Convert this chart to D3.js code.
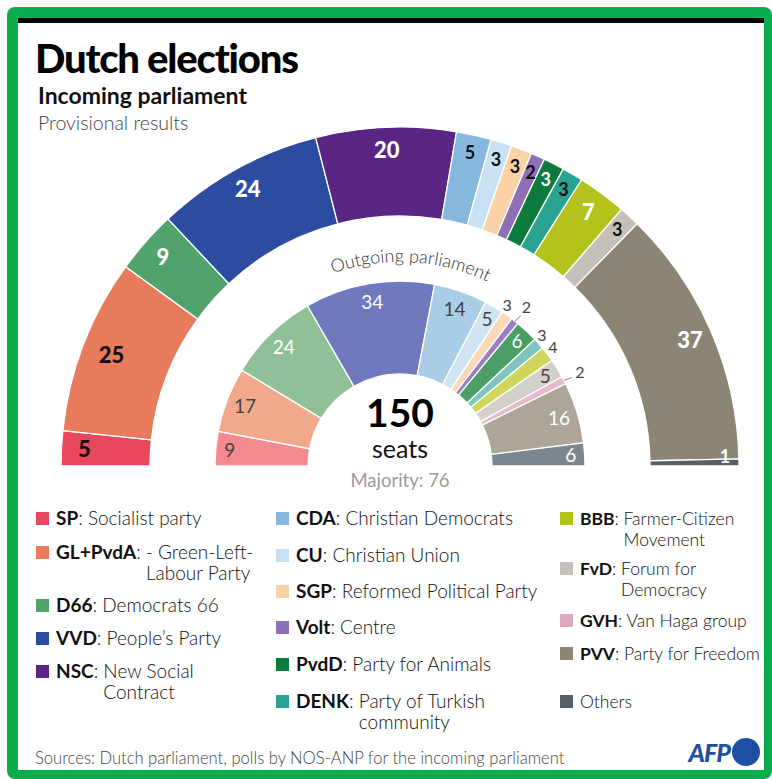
<!DOCTYPE html>
<html>
<head>
<meta charset="utf-8">
<script src="https://cdn.jsdelivr.net/npm/d3@7"></script>
<style>
  html, body { margin: 0; padding: 0; background: #fff; }
  svg { display: block; font-family: Lato, "Open Sans", sans-serif; }
</style>
</head>
<body>
<svg id="chart" width="772" height="779"></svg>
<script>
// parties, left to right round the hemicycle
var parties = ['SP', 'GL+PvdA', 'D66', 'VVD', 'NSC', 'CDA', 'CU', 'SGP', 'Volt', 'PvdD', 'DENK', 'BBB', 'FvD', 'GVH', 'PVV', 'Others'];
var partyNames = [
  'Socialist party', '- Green-Left-\nLabour Party', 'Democrats 66', 'People\u2019s Party', 'New Social\nContract',
  'Christian Democrats', 'Christian Union', 'Reformed Political Party', 'Centre', 'Party for Animals',
  'Party of Turkish\ncommunity', 'Farmer-Citizen\nMovement', 'Forum for\nDemocracy', 'Van Haga group',
  'Party for Freedom', ''
];
var incomingSeats = [5, 25, 9, 24, 20, 5, 3, 3, 2, 3, 3, 7, 3, 0, 37, 1];
var outgoingSeats = [9, 17, 24, 34, 0, 14, 5, 3, 2, 6, 3, 4, 5, 2, 16, 6];
var totalSeats = 150, majority = 76;

// legend columns (party codes)
var legendColumns = [
  ['SP', 'GL+PvdA', 'D66', 'VVD', 'NSC'],
  ['CDA', 'CU', 'SGP', 'Volt', 'PvdD', 'DENK'],
  ['BBB', 'FvD', 'GVH', 'PVV', 'Others']
];

// colours
var strongColor = d3.scaleOrdinal().domain(parties).range([
  '#e8485d', '#e87b5b', '#4fa36b', '#2c4ca1', '#5a2585', '#85b8dc', '#c7e1f2', '#fad2a6',
  '#8f70b6', '#0d7b3d', '#2aa393', '#b4c31b', '#c5c0b7', '#dca9bf', '#8b8576', '#565f67'
]);
var lightColor = d3.scaleOrdinal().domain(parties).range([
  '#f28a90', '#f2a98b', '#8fc097', '#6e7abd', '#9a7cbb', '#abcee7', '#d0e5f4', '#fbd9b6',
  '#9b80c1', '#4a9e66', '#7dc5bd', '#ced75b', '#d5d1ca', '#e5bace', '#aba698', '#7c868e'
]);

var svg = d3.select('#chart');

// frame
svg.append('rect').attr('x', 7).attr('y', 7).attr('width', 765).attr('height', 772)
  .attr('rx', 8).attr('fill', '#0aad4c');
svg.append('rect').attr('x', 18).attr('y', 18).attr('width', 746).attr('height', 752).attr('fill', '#fff');
svg.append('rect').attr('x', 18).attr('y', 18).attr('width', 746).attr('height', 5).attr('fill', '#000');

// titles
svg.append('text').attr('x', 35).attr('y', 73).text('Dutch elections')
  .attr('font-size', 40).attr('font-weight', 900).attr('letter-spacing', -1.2).attr('fill', '#000');
svg.append('text').attr('x', 38).attr('y', 104).text('Incoming parliament')
  .attr('font-size', 23).attr('font-weight', 700).attr('fill', '#111');
svg.append('text').attr('x', 38).attr('y', 130).text('Provisional results')
  .attr('font-size', 19.5).attr('font-weight', 300).attr('fill', '#444');

// hemicycle
var cx = 400, cy = 466;
var g = svg.append('g').attr('transform', 'translate(' + cx + ',' + cy + ')');

var pie = d3.pie().sort(null).value(function(d) { return d.seats; })
  .startAngle(-Math.PI / 2).endAngle(Math.PI / 2);

function rows(seats) {
  return parties.map(function(p, i) { return {party: p, seats: seats[i], index: i}; });
}

function polar(r, a) { return [r * Math.sin(a), -r * Math.cos(a)]; }
function mid(d) { return (d.startAngle + d.endAngle) / 2; }

var outerArc = d3.arc().innerRadius(250).outerRadius(339);
var innerArc = d3.arc().innerRadius(92).outerRadius(185);

var outerData = pie(rows(incomingSeats)).filter(function(d) { return d.data.seats > 0; });
var innerData = pie(rows(outgoingSeats)).filter(function(d) { return d.data.seats > 0; });

g.selectAll('path.outer').data(outerData).enter().append('path')
  .attr('class', 'outer').attr('d', outerArc)
  .attr('fill', function(d) { return strongColor(d.data.party); })
  .attr('stroke', '#fff').attr('stroke-width', 1.3);

g.selectAll('path.inner').data(innerData).enter().append('path')
  .attr('class', 'inner').attr('d', innerArc)
  .attr('fill', function(d) { return lightColor(d.data.party); })
  .attr('stroke', '#fff').attr('stroke-width', 1.3);

// outer labels
var darkOnOuter = ['SP', 'GL+PvdA', 'CDA', 'CU', 'SGP', 'Volt', 'DENK', 'FvD'];
function isBig(d) { return d.data.seats >= 7 || d.data.index === 0; }
g.selectAll('text.outer').data(outerData).enter().append('text')
  .attr('class', 'outer')
  .attr('transform', function(d) {
    var r = d.data.party === 'GL+PvdA' ? 309 : (isBig(d) ? 316 : 321);
    if (d.data.party === 'Others') r = 325;
    var p = polar(r, mid(d));
    if (d.data.party === 'Others') p[1] -= 6;
    return 'translate(' + p + ')';
  })
  .attr('text-anchor', 'middle').attr('dy', '0.36em')
  .attr('font-size', function(d) { return isBig(d) ? 22 : 18; })
  .attr('font-weight', function(d) { return isBig(d) ? 900 : 700; })
  .attr('fill', function(d) { return darkOnOuter.indexOf(d.data.party) >= 0 ? '#111' : '#fff'; })
  .text(function(d) { return d.data.seats; });

// inner labels: big ones inside, small ones outside the ring
var whiteOnInner = ['D66', 'VVD', 'PvdD', 'PVV', 'Others'];
var leaderParties = ['Volt', 'GVH'];
innerData.forEach(function(d) {
  var a = mid(d), inside = d.data.seats >= 5, p;
  if (inside) {
    p = polar(d.data.seats >= 14 ? 166 : 171, a);
  } else {
    p = polar(leaderParties.indexOf(d.data.party) >= 0 ? 202 : 197, a);
    if (d.data.party === 'SGP') p[0] -= 7;
    if (d.data.party === 'DENK') p[0] -= 6;
    if (d.data.party === 'BBB') p[0] -= 4;
    if (leaderParties.indexOf(d.data.party) >= 0) {
      var p0 = polar(185, a), p1 = polar(193, a);
      g.append('line').attr('x1', p0[0]).attr('y1', p0[1]).attr('x2', p1[0] + 1).attr('y2', p1[1] + 1)
        .attr('stroke', '#666').attr('stroke-width', 0.8);
      p[0] += 1;
    }
  }
  g.append('text').attr('x', p[0]).attr('y', p[1]).attr('dy', '0.36em')
    .attr('text-anchor', 'middle')
    .attr('font-size', inside ? 19 : 16).attr('font-weight', 400)
    .attr('fill', inside && whiteOnInner.indexOf(d.data.party) >= 0 ? '#fff' : '#444')
    .text(d.data.seats);
});

// curved title for the inner ring
var rt = 204;
g.append('path').attr('id', 'outgoingPath').attr('fill', 'none')
  .attr('d', 'M' + (-rt) + ',0A' + rt + ',' + rt + ' 0 0 1 ' + rt + ',0');
g.append('text').attr('font-size', 18).attr('font-weight', 300).attr('fill', '#333')
  .append('textPath').attr('href', '#outgoingPath')
  .attr('startOffset', '51.7%').attr('text-anchor', 'middle')
  .text('Outgoing parliament');

// centre text
g.append('text').attr('y', -39).attr('text-anchor', 'middle')
  .attr('font-size', 39).attr('font-weight', 700).attr('fill', '#000').text(totalSeats);
g.append('text').attr('y', -8).attr('text-anchor', 'middle')
  .attr('font-size', 25).attr('font-weight', 400).attr('fill', '#111').text('seats');
g.append('text').attr('y', 21).attr('text-anchor', 'middle')
  .attr('font-size', 18.5).attr('font-weight', 400).attr('fill', '#9a9a9a').text('Majority: ' + majority);

// legend
var colX = [36, 276, 560];
var colFont = [19, 19, 17.5];
var rowY = [
  [519, 553, 606, 639, 672],
  [519, 556, 592, 628, 665, 702],
  [519, 569, 621, 654, 702]
];
legendColumns.forEach(function(col, ci) {
  col.forEach(function(code, ri) {
    var y = rowY[ci][ri] + 6, x = colX[ci], fs = colFont[ci];
    var name = partyNames[parties.indexOf(code)];
    svg.append('rect').attr('x', x).attr('y', y - 13).attr('width', 13).attr('height', 13)
      .attr('fill', strongColor(code));
    var t = svg.append('text').attr('x', x + 20).attr('y', y).attr('font-size', fs).attr('fill', '#111');
    if (code === 'Others') {
      t.append('tspan').attr('font-weight', 300).text('Others');
      return;
    }
    t.append('tspan').attr('font-weight', 700).text(code);
    var lines = name.split('\n');
    var desc = t.append('tspan').attr('font-weight', 300).text(': ' + lines[0]);
    if (lines.length > 1) {
      // wrap the rest under the description
      var bold = t.select('tspan').node().getComputedTextLength();
      var colon = desc.node().getSubStringLength(0, 2);
      svg.append('text').attr('x', x + 20 + bold + colon).attr('y', y + 21)
        .attr('font-size', fs).attr('font-weight', 300).attr('fill', '#111').text(lines[1]);
    }
  });
});

// footer
svg.append('text').attr('x', 35).attr('y', 764)
  .attr('font-size', 16.6).attr('font-weight', 300).attr('fill', '#444')
  .text('Sources: Dutch parliament, polls by NOS-ANP for the incoming parliament');
svg.append('text').attr('x', 730).attr('y', 762).attr('text-anchor', 'end')
  .attr('font-size', 25).attr('font-weight', 900).attr('font-style', 'italic')
  .attr('letter-spacing', -1).attr('fill', '#1f4fa3').text('AFP');
svg.append('circle').attr('cx', 746).attr('cy', 752).attr('r', 14).attr('fill', '#1f4fa3');
</script>
</body>
</html>
